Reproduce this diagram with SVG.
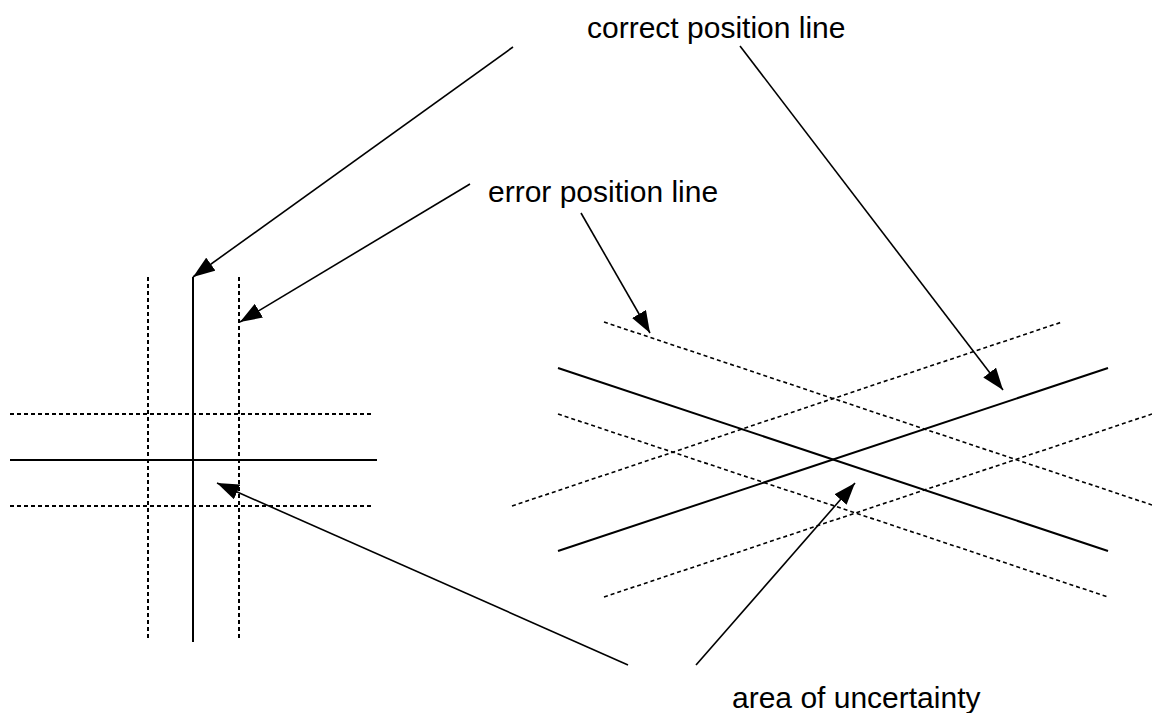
<svg xmlns="http://www.w3.org/2000/svg" width="1152" height="713" viewBox="0 0 1152 713">
<style>
.solid{stroke:#000;stroke-width:2;fill:none}
.dash{stroke:#000;stroke-width:2;stroke-dasharray:4,3;fill:none}
.dash2{stroke:#000;stroke-width:1.6;stroke-dasharray:4,3;fill:none}
.arrow{stroke:#000;stroke-width:1.6;fill:none;marker-end:url(#ah)}
.label{font-family:"Liberation Sans",Arial,sans-serif;font-size:30px;fill:#000}
</style>
<defs>
<marker id="ah" markerUnits="userSpaceOnUse" markerWidth="24" markerHeight="16" refX="22" refY="8" orient="auto">
<path d="M0,0 L22,8 L0,16 z" fill="#000"/>
</marker>
</defs>
<rect width="1152" height="713" fill="#fff"/>
<g id="left-cross">
<line class="dash" x1="148" y1="277" x2="148" y2="641"/>
<line class="solid" x1="193" y1="277" x2="193" y2="642"/>
<line class="dash" x1="239" y1="277" x2="239" y2="641"/>
<line class="dash" x1="10" y1="414" x2="374" y2="414"/>
<line class="solid" x1="10" y1="460" x2="377" y2="460"/>
<line class="dash" x1="10" y1="506" x2="374" y2="506"/>
</g>
<g id="right-cross">
<line class="solid" x1="558" y1="368" x2="1108" y2="551"/>
<line class="solid" x1="558" y1="551" x2="1108" y2="368"/>
<line class="dash2" x1="604" y1="322" x2="1152" y2="505"/>
<line class="dash2" x1="558" y1="414" x2="1108" y2="597"/>
<line class="dash2" x1="512" y1="506" x2="1062" y2="322"/>
<line class="dash2" x1="604" y1="597" x2="1152" y2="414"/>
</g>
<g id="labels">
<text id="correct-label" class="label" x="587" y="38">correct position line</text>
<text id="error-label" class="label" x="488" y="202">error position line</text>
<text id="area-label" class="label" x="732" y="708">area of uncertainty</text>
</g>
<g id="connectors">
<line class="arrow" x1="513" y1="47" x2="193" y2="277"/>
<line class="arrow" x1="740" y1="46" x2="1003" y2="390"/>
<line class="arrow" x1="470" y1="184" x2="240" y2="322"/>
<line class="arrow" x1="581" y1="213" x2="650" y2="333"/>
<line class="arrow" x1="628" y1="665" x2="217" y2="483"/>
<line class="arrow" x1="696" y1="665" x2="855" y2="483"/>
</g>
</svg>
